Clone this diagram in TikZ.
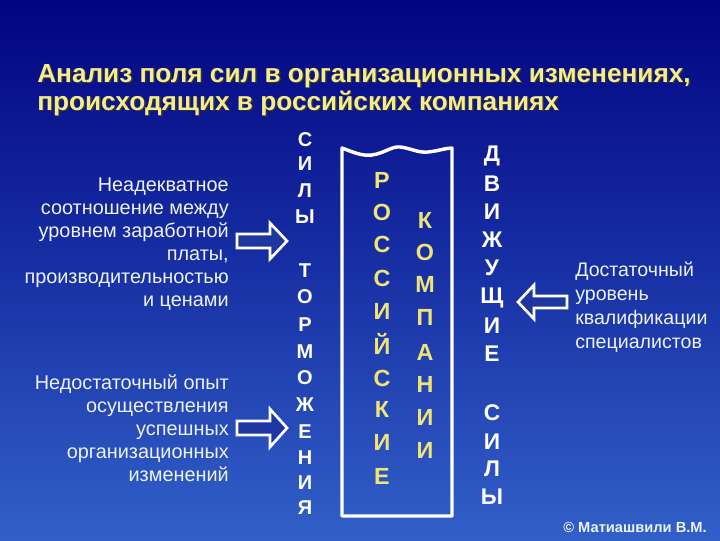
\documentclass[tikz,border=0pt]{standalone}
\usepackage{fontspec}
\setmainfont{Liberation Sans}
\definecolor{bgtop}{RGB}{2,4,128}
\definecolor{bgmid}{RGB}{24,48,165}
\definecolor{bgbot}{RGB}{50,96,200}
\definecolor{titley}{RGB}{245,236,140}
\definecolor{lety}{RGB}{238,228,120}
\definecolor{txtw}{RGB}{236,242,250}
\definecolor{arrfill}{RGB}{30,55,160}
\tikzset{
  title/.style={anchor=base west, font=\fontsize{19.65}{24}\selectfont\bfseries, text=titley, inner sep=0pt},
  titleshadow/.style={anchor=base west, font=\fontsize{19.65}{24}\selectfont\bfseries, text=black!80, inner sep=0pt},
  body/.style={font=\fontsize{14.9}{17.25}\selectfont, text=txtw, inner sep=0pt},
  bodyr/.style={font=\fontsize{14.7}{18}\selectfont, text=txtw, inner sep=0pt},
  letw/.style={font=\fontsize{15}{16}\selectfont\bfseries, text=white, inner sep=0pt},
  letw2/.style={font=\fontsize{17}{18}\selectfont\bfseries, text=white, inner sep=0pt},
  lety/.style={font=\fontsize{17.5}{18}\selectfont\bfseries, text=lety, inner sep=0pt},
  blockarrow/.style={draw=white, line width=2pt, fill=arrfill, line join=miter},
}
\begin{document}
\begin{tikzpicture}[x=0.75pt,y=-0.75pt]
\useasboundingbox (0,0) rectangle (720,540);
\shade[top color=bgtop, bottom color=bgmid] (0,0) rectangle (720,270);
\shade[top color=bgmid, bottom color=bgbot] (0,270) rectangle (720,540);
% title
\node[titleshadow] (t1s) at (38.5,83.5) {Анализ поля сил в организационных изменениях,};
\node[titleshadow] (t2s) at (38.5,111.5) {происходящих в российских компаниях};
\node[title] (t1) at (37,82) {Анализ поля сил в организационных изменениях,};
\node[title] (t2) at (37,110) {происходящих в российских компаниях};
% box with wavy top
\draw[white, line width=2.6pt, line join=round] (342,516) -- (342,148)
  .. controls (355,153) and (362,156) .. (372,155)
  .. controls (385,153) and (392,146) .. (400,147)
  .. controls (410,148) and (418,153) .. (428,152)
  .. controls (438,151) and (446,148) .. (452,148)
  -- (452,516) -- cycle;
% left column
\foreach \ch/\yy [count=\i] in {С/140,И/164,Л/191,Ы/217,Т/271,О/297,Р/325,М/352,О/378,Ж/405,Е/432,Н/458,И/483,Я/508}
  \node[letw] (l\i) at (305,\yy) {\ch};
% right column
\foreach \ch/\yy [count=\i] in {Д/156,В/184,И/212,Ж/240,У/268,Щ/298,И/326,Е/354,С/413,И/442,Л/469,Ы/497}
  \node[letw2] (r\i) at (492,\yy) {\ch};
% РОССИЙСКИЕ
\foreach \ch/\yy [count=\i] in {Р/180,О/212,С/244,С/278,И/311,Й/344,С/378,К/409,И/442,Е/476}
  \node[lety] (a\i) at (382,\yy) {\ch};
% КОМПАНИИ
\foreach \ch/\yy [count=\i] in {К/220,О/252,М/284,П/317,А/352,Н/384,И/417,И/450}
  \node[lety] (b\i) at (425,\yy) {\ch};
% left texts
\node[body, align=right, anchor=north east] (txt1) at (229,177.5) {Неадекватное\\соотношение между\\уровнем заработной\\платы,\\производительностью\\и ценами};
\node[body, align=right, anchor=north east] (txt2) at (229,374) {Недостаточный опыт\\осуществления\\успешных\\организационных\\изменений};
\node[bodyr, align=left, anchor=north west] (txt3) at (575,262) {Достаточный\\уровень\\квалификации\\специалистов};
% block arrows
\draw[blockarrow] (237,234) -- (270,234) -- (270,223) -- (287,241) -- (270,259) -- (270,248) -- (237,248) -- cycle;
\draw[blockarrow] (237,421) -- (270,421) -- (270,409) -- (287,428) -- (270,447) -- (270,435) -- (237,435) -- cycle;
\draw[blockarrow] (567,296) -- (534,296) -- (534,285) -- (518,302) -- (534,319) -- (534,308) -- (567,308) -- cycle;
% copyright
\node[font=\fontsize{11}{12}\selectfont\bfseries, text=txtw, anchor=east, inner sep=0pt] (copy) at (707,527) {© Матиашвили В.М.};
\end{tikzpicture}
\end{document}
